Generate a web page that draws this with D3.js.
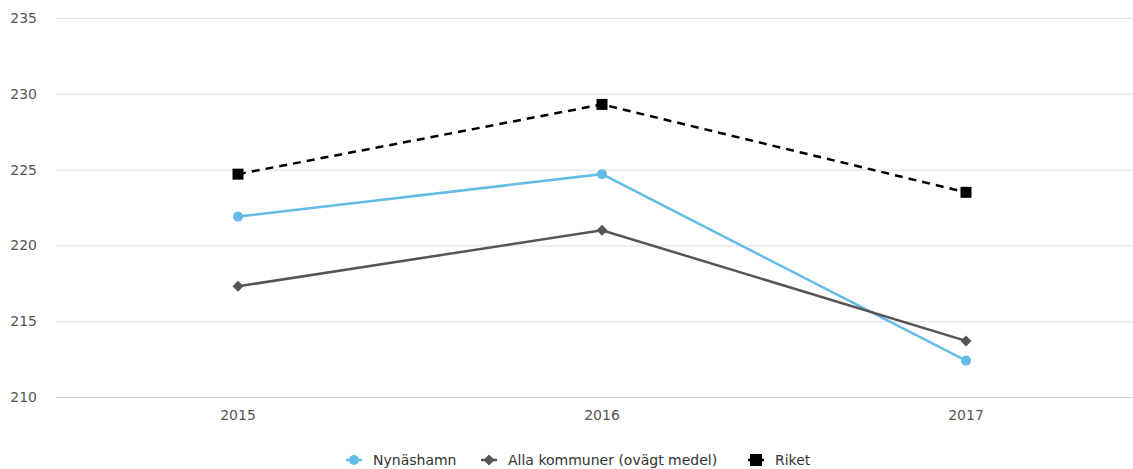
<!DOCTYPE html>
<html>
<head>
  <meta charset="utf-8">
  <script src="https://cdnjs.cloudflare.com/ajax/libs/d3/7.8.5/d3.min.js"></script>
  <style>
    html, body { margin: 0; padding: 0; background: #fff; }
    text { font-family: "DejaVu Sans", sans-serif; }
  </style>
</head>
<body>
  <svg id="chart" width="1133" height="469"></svg>
  <script>
    let years = ['2015', '2016', '2017']
    let yTicks = [210, 215, 220, 225, 230, 235]
    let seriesNames = ['Nynäshamn', 'Alla kommuner (ovägt medel)', 'Riket']
    let nynashamn = [221.9, 224.7, 212.4]
    let allaKommuner = [217.3, 221.0, 213.7]
    let riket = [224.7, 229.3, 223.5]

    let series = [
      { name: seriesNames[0], values: nynashamn, color: '#64bce6', symbol: 'circle', dash: null },
      { name: seriesNames[1], values: allaKommuner, color: '#555555', symbol: 'diamond', dash: null },
      { name: seriesNames[2], values: riket, color: '#000000', symbol: 'square', dash: '8,6' }
    ]

    let svg = d3.select('#chart')
    let x = d3.scalePoint().domain(years).range([56, 1148]).padding(0.5)
    let y = d3.scaleLinear().domain([210, 235]).range([397, 18])

    // grid
    svg.append('g').selectAll('line').data(yTicks).join('line')
      .attr('x1', 56).attr('x2', 1133)
      .attr('y1', d => y(d) + 0.5).attr('y2', d => y(d) + 0.5)
      .attr('stroke', d => d === 210 ? '#c3d0dc' : '#dedede')
      .attr('stroke-width', 1)

    svg.append('g').selectAll('text').data(yTicks).join('text')
      .attr('x', 37).attr('y', d => y(d) + 5)
      .attr('text-anchor', 'end')
      .attr('font-size', 14).attr('fill', '#555')
      .text(d => d)

    svg.append('g').selectAll('text').data(years).join('text')
      .attr('x', d => x(d)).attr('y', 420)
      .attr('text-anchor', 'middle')
      .attr('font-size', 14).attr('fill', '#555')
      .text(d => d)

    const drawMarker = (g, s, cx, cy, big) => {
      if (s.symbol === 'circle') {
        g.append('circle').attr('cx', cx).attr('cy', cy).attr('r', 5).attr('fill', s.color)
      } else if (s.symbol === 'diamond') {
        let r = 5.5
        g.append('path').attr('d', `M${cx},${cy - r}L${cx + r},${cy}L${cx},${cy + r}L${cx - r},${cy}Z`).attr('fill', s.color)
      } else {
        let h = big ? 5.5 : 6
        g.append('rect').attr('x', cx - h).attr('y', cy - h).attr('width', 2 * h).attr('height', 2 * h).attr('fill', s.color)
      }
    }

    let line = d3.line().x((d, i) => x(years[i])).y(d => y(d))

    series.forEach(s => {
      let g = svg.append('g')
      g.append('path').datum(s.values)
        .attr('d', line)
        .attr('fill', 'none')
        .attr('stroke', s.color)
        .attr('stroke-width', 2.5)
        .attr('stroke-dasharray', s.dash)
      s.values.forEach((v, i) => drawMarker(g, s, x(years[i]), y(v), true))
    })

    // legend
    let legendX = [346, 481, 748]
    series.forEach((s, i) => {
      let g = svg.append('g')
      let lx = legendX[i], ly = 460
      g.append('line').attr('x1', lx).attr('x2', lx + 16).attr('y1', ly).attr('y2', ly)
        .attr('stroke', s.color).attr('stroke-width', 2.5)
        .attr('stroke-dasharray', s.dash ? '10,4' : null)
      drawMarker(g, s, lx + 8, ly, false)
      g.append('text').attr('x', lx + 27).attr('y', ly + 5)
        .attr('font-size', 14).attr('fill', '#333')
        .text(s.name)
    })
  </script>
</body>
</html>
